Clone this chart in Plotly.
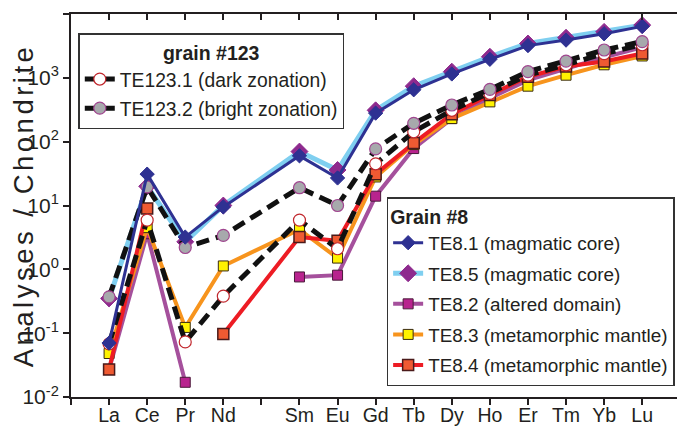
import plotly.graph_objects as go

ree = ["La", "Ce", "Pr", "Nd", "Pm", "Sm", "Eu", "Gd", "Tb", "Dy", "Ho", "Er", "Tm", "Yb", "Lu"]
tick_labels = ["La", "Ce", "Pr", "Nd", "", "Sm", "Eu", "Gd", "Tb", "Dy", "Ho", "Er", "Tm", "Yb", "Lu"]
elements = ["La", "Ce", "Pr", "Nd", "Sm", "Eu", "Gd", "Tb", "Dy", "Ho", "Er", "Tm", "Yb", "Lu"]
y_tick_vals = [1e-2, 1e-1, 1, 10, 100, 1000, 1e4]
y_tick_text = ["10<sup>-2</sup>", "10<sup>-1</sup>", "10<sup>0</sup>", "10<sup>1</sup>",
               "10<sup>2</sup>", "10<sup>3</sup>", "10<sup>4</sup>"]

te8_1 = [0.07, 31, 3.2, 9.5, 60, 27, 280, 650, 1150, 1950, 3200, 3900, 4900, 6400]
te8_5 = [0.35, 20, 2.7, 10, 70, 36, 310, 740, 1250, 2140, 3450, 4250, 5250, 6700]
te8_2 = [0.027, 3.6, 0.017, None, 0.76, 0.81, 14, 78, 230, 480, 920, 1400, 2100, 3000]
te8_3 = [0.048, 4.5, 0.123, 1.13, 4.2, 1.5, 28, 90, 230, 420, 740, 1100, 1600, 2200]
te8_4 = [0.027, 9, None, 0.097, 3.2, 2.8, 31, 95, 270, 540, 1040, 1500, 1800, 2400]
te123_1 = [0.068, 5.9, 0.073, 0.38, 5.9, 2.1, 45, 143, 310, 570, 1100, 1600, 2400, 3300]
te123_2 = [0.37, 19.6, 2.2, 3.4, 19, 10, 77, 194, 375, 660, 1250, 1830, 2730, 3700]

xpos = [ree.index(e) for e in elements]
FONT = "Liberation Sans, Arial, sans-serif"
TXT = "#231f20"

fig = go.Figure()

def add(name, vals, lcolor, lwidth, sym, msize, mfill, medge, mew, legend, rank, dash="solid"):
    fig.add_trace(go.Scatter(
        x=xpos, y=vals, name=name, mode="lines+markers", connectgaps=False,
        line=dict(color=lcolor, width=lwidth, dash=dash),
        marker=dict(symbol=sym, size=msize, color=mfill, line=dict(color=medge, width=mew)),
        legend=legend, legendrank=rank, legendgroup=name,
    ))

add("TE8.5 (magmatic core)", te8_5, "#7fcff0", 5, "diamond", 13, "#8e2a8e", "#8e2a8e", 1, "legend2", 2)
add("TE8.2 (altered domain)", te8_2, "#a5509c", 4, "square", 10, "#b8238e", "#4a1a3a", 1, "legend2", 3)
add("TE8.3 (metamorphic mantle)", te8_3, "#f7941d", 4, "square", 10, "#fff200", "#3a2a10", 1, "legend2", 4)
add("TE8.4 (metamorphic mantle)", te8_4, "#ed1c24", 4, "square", 11, "#ef5a32", "#4a1a1a", 1.5, "legend2", 5)
add("TE123.1 (dark zonation)", te123_1, "#111111", 5, "circle", 12, "#ffffff", "#c1272d", 1.2, "legend", 1, dash="13px,7px")
add("TE123.2 (bright zonation)", te123_2, "#111111", 5, "circle", 12, "#a7a9ac", "#a0458f", 1.2, "legend", 2, dash="13px,7px")
add("TE8.1 (magmatic core)", te8_1, "#2e3192", 3, "diamond", 11, "#2e3192", "#2e3192", 1, "legend2", 1)

# invisible trace for the top (inside-tick) axis
fig.add_trace(go.Scatter(x=[None], y=[None], xaxis="x2", showlegend=False, hoverinfo="skip"))

fig.update_layout(
    width=677, height=421,
    margin=dict(l=63, r=7, t=6, b=32, autoexpand=False),
    paper_bgcolor="white", plot_bgcolor="white",
    font=dict(family=FONT, color=TXT),
    xaxis=dict(
        range=[-1.0, 14.94], tickmode="array", tickvals=list(range(-1, 15)),
        ticktext=[""] + tick_labels, ticks="outside", ticklen=6, tickwidth=2, tickcolor=TXT,
        showline=True, linewidth=2, linecolor=TXT, showgrid=False, zeroline=False,
        tickfont=dict(size=19.5, color=TXT), automargin=False, ticklabelstandoff=-6,
    ),
    xaxis2=dict(
        overlaying="x", side="top", range=[-1.0, 14.94], tickmode="array",
        tickvals=list(range(0, 15)), ticks="inside", ticklen=6, tickwidth=2, tickcolor=TXT,
        showticklabels=False, showline=True, linewidth=2, linecolor=TXT, showgrid=False,
        zeroline=False, automargin=False,
    ),
    yaxis=dict(
        type="log", range=[-2, 4], tickmode="array", tickvals=y_tick_vals, ticktext=y_tick_text,
        ticks="outside", ticklen=6, tickwidth=2, tickcolor=TXT,
        showline=True, linewidth=2, linecolor=TXT, mirror=True, showgrid=False, zeroline=False,
        tickfont=dict(size=21, color=TXT), automargin=False,
        title=dict(text="<span style='letter-spacing:3.5px'>Analyses / Chondrite</span>",
                   font=dict(size=27.5, color=TXT), standoff=2),
    ),
    legend=dict(
        x=0.012, y=0.95, xanchor="left", yanchor="top",
        bgcolor="white", bordercolor="#333333", borderwidth=1.5,
        font=dict(size=19.3, color=TXT), itemwidth=30, tracegroupgap=1,
        title=dict(text="<b>grain #123</b>", side="top center", font=dict(size=19.5, color=TXT)),
    ),
    legend2=dict(
        x=0.52, y=0.522, xanchor="left", yanchor="top",
        bgcolor="white", bordercolor="#333333", borderwidth=1.5,
        font=dict(size=18.9, color=TXT), itemwidth=30, tracegroupgap=3,
        title=dict(text="<b>Grain #8</b>", side="top", font=dict(size=19.5, color=TXT)),
    ),
)

fig.write_html("out.html")
